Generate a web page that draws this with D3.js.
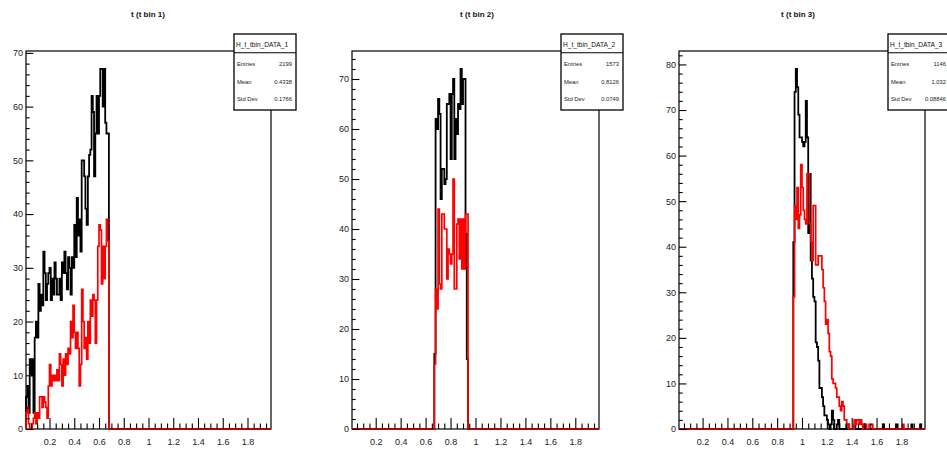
<!DOCTYPE html>
<html><head><meta charset="utf-8">
<script src="https://cdn.jsdelivr.net/npm/d3@7/dist/d3.min.js"></script>
<style>
body{margin:0;background:#fff}
svg{display:block}
text{font-family:"Liberation Sans",Arial,Helvetica,sans-serif}
</style>
</head><body>
<svg id="c" width="947" height="449"></svg>
<script>
// ---------------- data ----------------
const binWidth = 0.01;
const xRange = [0.01, 1.99];
const xTickLabels = ["0.2","0.4","0.6","0.8","1","1.2","1.4","1.6","1.8"];
const titles = ["t (t bin 1)", "t (t bin 2)", "t (t bin 3)"];
const statNames = ["H_t_tbin_DATA_1", "H_t_tbin_DATA_2", "H_t_tbin_DATA_3"];
const statEntries = ["2199", "1573", "1146"];
const statMeans = ["0.4338", "0.8126", "1.032"];
const statStdDevs = ["0.1766", "0.0749", "0.08846"];
const yMaxima = [70.35, 75.6, 82.95];

// bin 1 (first bin starts at 0.01)
const bin1BlackStart = 0.01;
const bin1Black = [6, 8, 3, 13, 10, 13, 3, 17, 20, 17, 27, 22, 25, 23, 33, 29, 24, 27, 29, 30,
  24, 28, 25, 31, 28, 25, 25, 28, 24, 31, 29, 33, 29, 26, 32, 30, 25, 32, 30, 38,
  32, 43, 36, 39, 33, 50, 50, 47, 41, 38, 47, 51, 52, 62, 59, 47, 55, 62, 55, 62,
  67, 67, 60, 67, 57, 55, 55];
const bin1RedStart = 0.01;
const bin1Red = [3, 4, 1, 0, 0, 1, 2, 3, 1, 3, 2, 6, 6, 4, 6, 5, 4, 2, 8, 12,
  8, 10, 9, 10, 9, 11, 9, 14, 12, 8, 13, 10, 14, 12, 15, 14, 20, 17, 23, 18,
  15, 18, 15, 8, 12, 26, 20, 15, 17, 13, 20, 16, 24, 21, 25, 24, 16, 24, 34, 38,
  37, 27, 34, 28, 34, 39, 35];

// bin 2
const bin2BlackStart = 0.67;
const bin2Black = [15, 62, 60, 66, 63, 46, 52, 52, 49, 50, 65, 65, 67, 54, 67, 70, 54, 62, 59, 65,
  64, 72, 65, 70, 70, 39, 14];
const bin2RedStart = 0.67;
const bin2Red = [13, 28, 24, 44, 29, 28, 43, 43, 40, 40, 30, 36, 35, 33, 35, 50, 28, 28, 41, 42,
  34, 42, 32, 42, 32, 43, 43];

// bin 3
const bin3BlackStart = 0.93;
const bin3Black = [41, 74, 79, 75, 69, 64, 64, 63, 62, 63, 72, 64, 43, 56, 37, 33, 29, 28, 19, 18,
  15, 9, 9, 7, 5, 3, 3, 2, 1, 0, 1, 4, 2, 0, 0, 1, 2];
const bin3BlackTail = [[1.36, 1], [1.37, 1], [1.42, 1], [1.50, 1], [1.65, 1], [1.76, 1], [1.88, 1], [1.95, 1]];
const bin3RedStart = 0.93;
const bin3Red = [29, 49, 46, 53, 44, 47, 58, 53, 48, 46, 45, 56, 56, 45, 41, 37, 49, 49, 36, 36,
  38, 38, 38, 35, 31, 28, 23, 24, 21, 17, 16, 11, 10, 10, 9, 7, 7, 5, 4, 6,
  5, 2, 2, 1, 1];
const bin3RedTail = [[1.42, 2], [1.43, 1], [1.44, 2], [1.45, 2], [1.46, 1], [1.47, 2], [1.48, 1],
  [1.50, 1], [1.51, 1], [1.54, 1], [1.55, 1], [1.56, 1], [1.81, 1]];

// ---------------- layout ----------------
const layout = [
  {left: 26, right: 271, top: 51, bottom: 429, titleX: 148, boxLeft: 234},
  {left: 352, right: 599, top: 51, bottom: 429, titleX: 477, boxLeft: 561},
  {left: 679, right: 925, top: 51, bottom: 429, titleX: 798, boxLeft: 888}
];
const panelData = [
  {black: [bin1BlackStart, bin1Black, []], red: [bin1RedStart, bin1Red, []]},
  {black: [bin2BlackStart, bin2Black, []], red: [bin2RedStart, bin2Red, []]},
  {black: [bin3BlackStart, bin3Black, bin3BlackTail], red: [bin3RedStart, bin3Red, bin3RedTail]}
];

const nBins = Math.round((xRange[1] - xRange[0]) / binWidth);
function fullHist(start, vals, tail) {
  const h = new Array(nBins).fill(0);
  const i0 = Math.round((start - xRange[0]) / binWidth);
  vals.forEach((v, k) => { h[i0 + k] = v; });
  tail.forEach(([xv, v]) => { h[Math.round((xv - xRange[0]) / binWidth)] = v; });
  return h;
}
function stepPoints(h) {
  const pts = [[xRange[0], 0]];
  h.forEach((v, i) => {
    const a = xRange[0] + i * binWidth, b = a + binWidth;
    pts.push([a, v]); pts.push([b, v]);
  });
  pts.push([xRange[1], 0]);
  return pts;
}

const svg = d3.select("#c");
svg.append("rect").attr("width", 947).attr("height", 449).attr("fill", "#fff");

layout.forEach((L, i) => {
  const g = svg.append("g");
  const x = d3.scaleLinear().domain(xRange).range([L.left, L.right]);
  const y = d3.scaleLinear().domain([0, yMaxima[i]]).range([L.bottom, L.top]);

  // title
  g.append("text").attr("x", L.titleX).attr("y", 14).attr("dy", "0.35em")
    .attr("text-anchor", "middle").attr("font-size", 8).attr("font-weight", "bold")
    .attr("fill", "#111").text(titles[i]);

  // frame
  g.append("rect").attr("x", L.left).attr("y", L.top)
    .attr("width", L.right - L.left).attr("height", L.bottom - L.top)
    .attr("fill", "none").attr("stroke", "#000").attr("stroke-width", 1.2);

  const line = d3.line().x(d => x(d[0])).y(d => y(d[1]));
  const pd = panelData[i];
  g.append("path").attr("d", line(stepPoints(fullHist(...pd.black))))
    .attr("fill", "none").attr("stroke", "#000").attr("stroke-width", 1.8);
  g.append("path").attr("d", line(stepPoints(fullHist(...pd.red))))
    .attr("fill", "none").attr("stroke", "#ff0000").attr("stroke-width", 1.7);

  // x axis
  const xMajor = xTickLabels.map(Number);
  const xMinor = d3.range(1, 40).map(k => +(k * 0.05).toFixed(2)).filter(v => v > xRange[0] && v < xRange[1] && !xMajor.some(m => Math.abs(m - v) < 1e-6));
  const gxm = g.append("g").attr("transform", `translate(0,${L.bottom})`)
    .call(d3.axisBottom(x).tickValues(xMinor).tickSize(-5.5).tickFormat(""));
  const gx = g.append("g").attr("transform", `translate(0,${L.bottom})`)
    .call(d3.axisBottom(x).tickValues(xMajor).tickSize(-11).tickPadding(10)
      .tickFormat((d, k) => xTickLabels[k]));
  // y axis
  const yMajor = d3.range(0, yMaxima[i] + 0.001, 10);
  const yMinor = d3.range(0, yMaxima[i] + 0.001, 2).filter(v => v % 10 !== 0);
  const gym = g.append("g").attr("transform", `translate(${L.left},0)`)
    .call(d3.axisLeft(y).tickValues(yMinor).tickSize(-3.7).tickFormat(""));
  const gy = g.append("g").attr("transform", `translate(${L.left},0)`)
    .call(d3.axisLeft(y).tickValues(yMajor).tickSize(-7.4).tickPadding(3).tickFormat(d3.format("d")));
  [gxm, gx, gym, gy].forEach(a => {
    a.select(".domain").remove();
    a.selectAll("line").attr("stroke", "#000").attr("stroke-width", 1.1);
    a.selectAll("text").attr("font-size", 9).attr("fill", "#222")
      .attr("font-family", '"Liberation Sans",Arial,sans-serif');
  });

  // stats box
  const bx = L.boxLeft, bw = 62, by = 34, bh = 76;
  const sb = g.append("g");
  sb.append("rect").attr("x", bx).attr("y", by).attr("width", bw).attr("height", bh)
    .attr("fill", "#fff").attr("stroke", "#000").attr("stroke-width", 1.3);
  sb.append("line").attr("x1", bx).attr("x2", bx + bw).attr("y1", 52.7).attr("y2", 52.7)
    .attr("stroke", "#000").attr("stroke-width", 1.1);
  sb.append("text").attr("x", bx + 2).attr("y", 44.3).attr("dy", "0.35em")
    .attr("font-size", 6.6).attr("fill", "#111").text(statNames[i]);
  const rows = [["Entries", statEntries[i], 64.3], ["Mean", statMeans[i], 81.7], ["Std Dev", statStdDevs[i], 99]];
  rows.forEach(([lab, val, ry]) => {
    sb.append("text").attr("x", bx + 3).attr("y", ry).attr("dy", "0.35em")
      .attr("font-size", 5.8).attr("fill", "#222").text(lab);
    sb.append("text").attr("x", bx + bw - 4).attr("y", ry).attr("dy", "0.35em")
      .attr("text-anchor", "end").attr("font-size", 5.8).attr("fill", "#222").text(val);
  });
});
</script>
</body></html>
